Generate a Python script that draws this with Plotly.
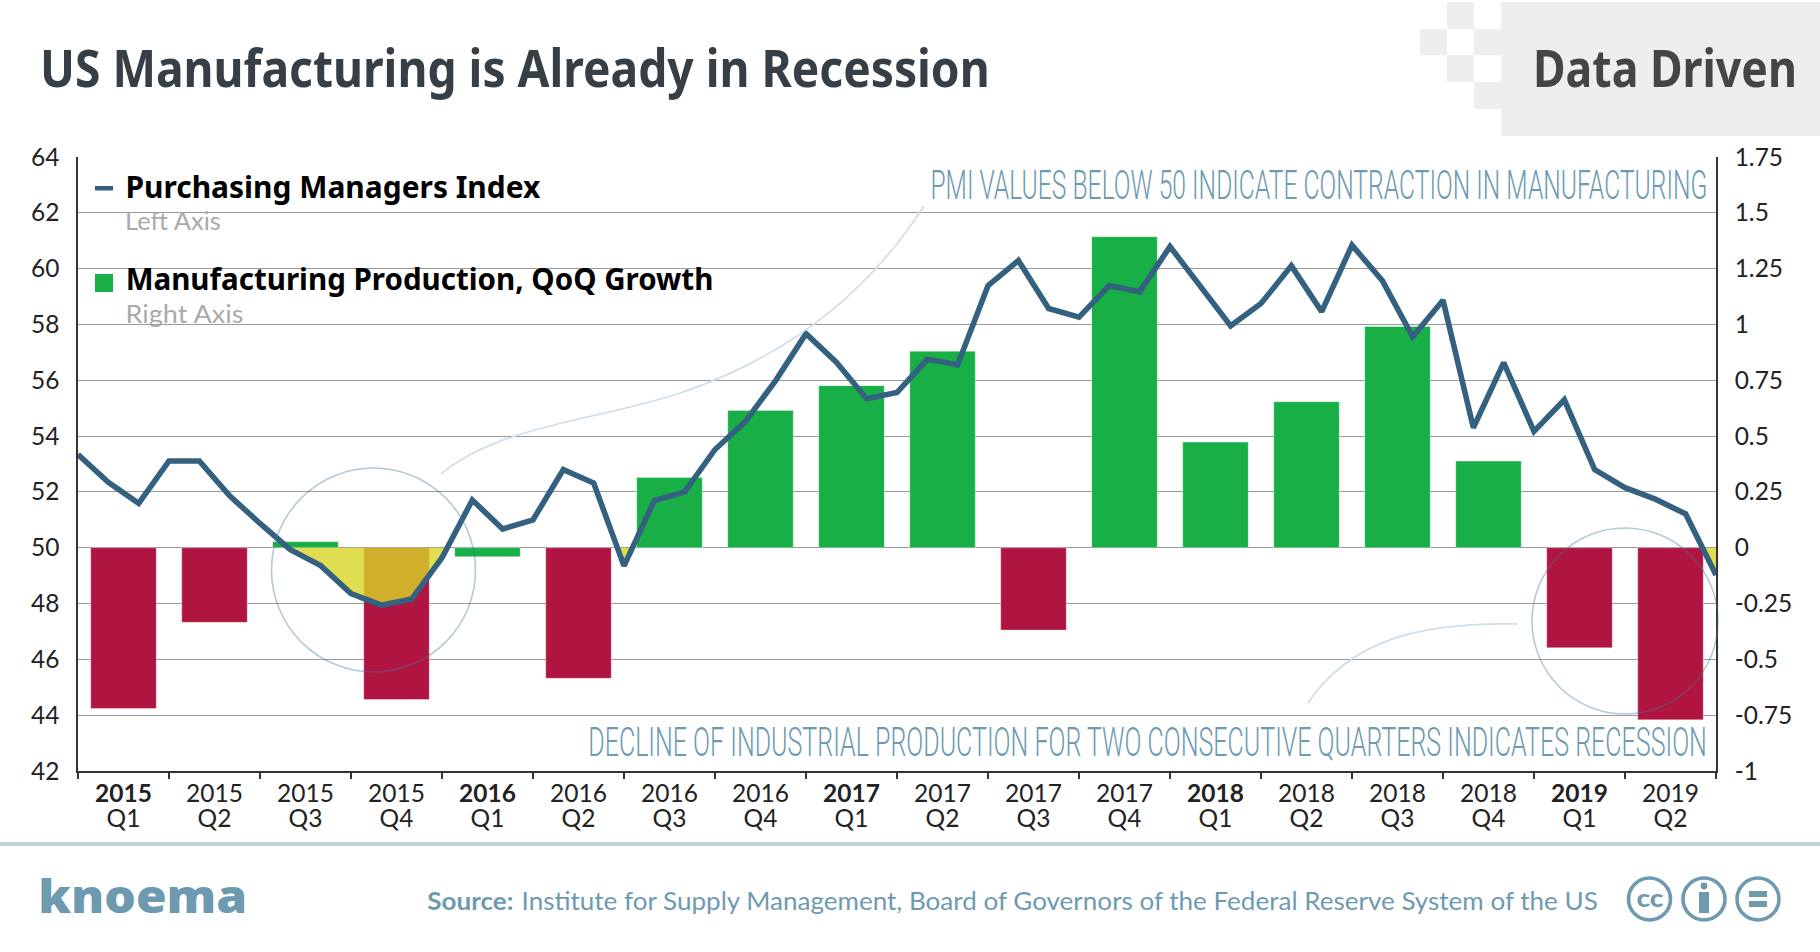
import plotly.graph_objects as go
import json

years = [2015]*4 + [2016]*4 + [2017]*4 + [2018]*4 + [2019]*2
quarters = [1,2,3,4]*4 + [1,2]
growth = [-0.72,-0.334,0.027,-0.68,-0.04,-0.585,0.315,0.615,0.726,0.88,-0.369,1.393,
          0.473,0.654,0.991,0.388,-0.448,-0.771]
is_red = [1,1,0,1,0,1,0,0,0,0,1,0,0,0,0,0,1,1]
pmi = [53.34,52.34,51.59,53.11,53.11,51.86,50.87,49.93,49.36,48.36,47.94,48.16,49.64,
       51.71,50.67,51.0,52.8,52.32,49.35,51.69,52.0,53.52,54.52,55.99,57.67,56.65,
       55.34,55.56,56.75,56.56,59.39,60.29,58.57,58.26,59.39,59.17,60.79,59.35,57.95,
       58.75,60.1,58.46,60.84,59.57,57.56,58.87,54.3,56.63,54.17,55.3,52.8,52.15,51.74,
       51.21,49.02]
left_ticks = [42,44,46,48,50,52,54,56,58,60,62,64]
right_ticks = [-1,-0.75,-0.5,-0.25,0,0.25,0.5,0.75,1,1.25,1.5,1.75]
right_labels = ["-1","-0.75","-0.5","-0.25","0","0.25","0.5","0.75","1","1.25","1.5","1.75"]

INK="#222222"; BLUE="#6E9AB0"; LINE="#33617F"; GREEN="#17AF46"; RED="#AF1540"
PL,PR,PT,PB = 78,1716,157,771
def X(p): return (p-PL)/(PR-PL)
def Y(p): return (PB-p)/(PB-PT)

cats = [f"<b>{y}</b><br>Q1" if q==1 else f"{y}<br>Q{q}" for y,q in zip(years,quarters)]
months = list(range(len(pmi)))

ax,ay=[],[]
for i,v in enumerate(pmi):
    if i and (pmi[i-1]-50)*(v-50)<0:
        ax.append(i-1+(50-pmi[i-1])/(v-pmi[i-1])); ay.append(50)
    ax.append(i); ay.append(min(v,50))

fig=go.Figure()
fig.add_trace(go.Bar(x=cats,y=growth,width=0.72,xaxis="x",yaxis="y",
    marker=dict(color=[RED if r else GREEN for r in is_red],line=dict(width=1,color="rgba(255,255,255,0.35)")),showlegend=False))
fig.add_trace(go.Scatter(x=ax,y=[50]*len(ax),mode="lines",line=dict(width=0),xaxis="x2",yaxis="y2",showlegend=False))
fig.add_trace(go.Scatter(x=ax,y=ay,mode="lines",line=dict(width=0),fill="tonexty",fillcolor="rgba(216,214,36,0.8)",xaxis="x2",yaxis="y2",showlegend=False))
fig.add_trace(go.Scatter(x=months,y=pmi,mode="lines",line=dict(color=LINE,width=5.6),xaxis="x2",yaxis="y2",showlegend=False))

shapes=[]
def rect(x0,y0,x1,y1,c,layer="below"):
    shapes.append(dict(type="rect",xref="paper",yref="paper",x0=X(x0),x1=X(x1),y0=Y(y1),y1=Y(y0),fillcolor=c,line=dict(width=0),layer=layer))
def circ(cx,cy,r,c,w,fill="rgba(0,0,0,0)"):
    shapes.append(dict(type="circle",xref="paper",yref="paper",x0=X(cx-r),x1=X(cx+r),y0=Y(cy+r),y1=Y(cy-r),line=dict(color=c,width=w),fillcolor=fill,layer="above"))
def curve(pts,c,w):
    s=f"M {X(pts[0][0]):.5f},{Y(pts[0][1]):.5f}"
    for i in range(1,len(pts),3):
        s+=" C "+" ".join(f"{X(a):.5f},{Y(b):.5f}" for a,b in pts[i:i+3])
    shapes.append(dict(type="path",xref="paper",yref="paper",path=s,line=dict(color=c,width=w),layer="above"))

G="#EEEEEE"
rect(1501,2,1820,136,G); rect(1447,2,1474,29,G); rect(1420,29,1447,55,G); rect(1474,29,1501,55,G)
rect(1447,55,1474,82,G); rect(1474,82,1501,109,G)
rect(0,842,1820,846,"#C3D3DC")
shapes.append(dict(type="rect",xref="x",yref="y",x0=-0.5,x1=6.9,y0=0.906,y1=1.75,fillcolor="rgba(255,255,255,0.8)",line=dict(width=0),layer="below"))
circ(373.5,570,102,"rgba(70,120,150,0.4)",1.6)
circ(1625,621,93,"rgba(70,120,150,0.4)",1.6)
curve([(441,474),(500,425),(600,420),(680,393),(790,356),(870,290),(924,206)],"#CFDDE6",1.6)
curve([(1308,703),(1350,640),(1420,622),(1518,624)],"#CFDDE6",1.6)
rect(95,186,113,190.5,LINE,"above"); rect(95,274,113,292,GREEN,"above")
for cx in (1649.5,1704,1758): circ(cx,899,21,BLUE,3.6)
circ(1704,886,3.4,BLUE,0,BLUE)
rect(1699,892,1709,913,BLUE,"above")
for y0 in (891,901):
    rect(1749,y0,1767,y0+6,BLUE,"above")

anns=[]; WIDTHS={}
def label(text,x0,x1,yc,size,color,weight=400,family="Lato"):
    anns.append(dict(text=text,xref="paper",yref="paper",x=X((x0+x1)/2),y=Y(yc),xanchor="center",yanchor="middle",showarrow=False,
                     font=dict(family=family,size=size,color=color,weight=weight)))
    WIDTHS[text]=x1-x0
H="Noto Sans"
label("US Manufacturing is Already in Recession",40,990,67,52,"#363F45",700,H)
label("Data Driven",1533,1797,67,52,"#454545",700,H)
label("Purchasing Managers Index",125,540,186,31,"#000000",700,H)
label("Left Axis",125,221,220,25,"#AAAAAA")
label("Manufacturing Production, QoQ Growth",125,713,278,31,"#000000",700,H)
label("Right Axis",125,243,313,25,"#AAAAAA")
label("PMI VALUES BELOW 50 INDICATE CONTRACTION IN MANUFACTURING",930,1707,184.5,41,BLUE,300,"Roboto")
label("DECLINE OF INDUSTRIAL PRODUCTION FOR TWO CONSECUTIVE QUARTERS INDICATES RECESSION",588,1707,741.5,41,BLUE,300,"Roboto")
label("knoema",38,247,895,46,BLUE,900,H)
label("Source:",427,513,900,25,BLUE,700)
label("Institute for Supply Management, Board of Governors of the Federal Reserve System of the US",521,1598,900,25,BLUE)
label("cc",1636,1663,897,25,BLUE,900)

axis_col="#333333"; tick=dict(family="Lato",size=24.5,color=INK)
fig.update_layout(
    width=1820,height=952,margin=dict(l=PL,r=1820-PR,t=PT,b=952-PB),
    paper_bgcolor="white",plot_bgcolor="white",showlegend=False,barmode="overlay",
    shapes=shapes,annotations=anns,
    xaxis=dict(type="category",tickson="boundaries",dtick=1,tickangle=0,ticks="outside",ticklen=6,tickwidth=1.5,tickcolor=axis_col,
               showline=True,linecolor=axis_col,linewidth=1.5,showgrid=False,tickfont=tick,range=[-0.5,17.5]),
    xaxis2=dict(overlaying="x",range=[0,54],visible=False),
    yaxis=dict(side="right",range=[-1,1.75],tickmode="array",tickvals=right_ticks,ticktext=right_labels,
               showgrid=True,gridcolor="#999999",gridwidth=1,zeroline=False,showline=True,linecolor=axis_col,linewidth=1.5,
               ticks="outside",ticklen=12,tickcolor="rgba(0,0,0,0)",tickfont=tick),
    yaxis2=dict(overlaying="y",side="left",range=[42,64],tickmode="array",tickvals=left_ticks,showgrid=False,zeroline=False,
                showline=True,linecolor=axis_col,linewidth=1.5,ticks="outside",ticklen=12,tickcolor="rgba(0,0,0,0)",tickfont=tick),
)
post = """
document.body.style.margin='0';document.body.style.overflow='hidden';
var W=%s;
document.querySelectorAll('.annotation-text').forEach(function(t){var w=W[t.textContent];
 if(w){var b=t.getBBox(),c=b.x+b.width/2,s=w/t.getComputedTextLength();
  t.setAttribute('transform','translate('+c+',0) scale('+s+',1) translate('+(-c)+',0)');}});
document.querySelectorAll('.xtick text tspan.line').forEach(function(s){var d=parseFloat(s.getAttribute('dy'));
 if(d){s.setAttribute('dy',(d/1.3)+'em');}});
""" % json.dumps(WIDTHS)
fig.write_html("out.html",post_script=post,config=dict(displayModeBar=False))
